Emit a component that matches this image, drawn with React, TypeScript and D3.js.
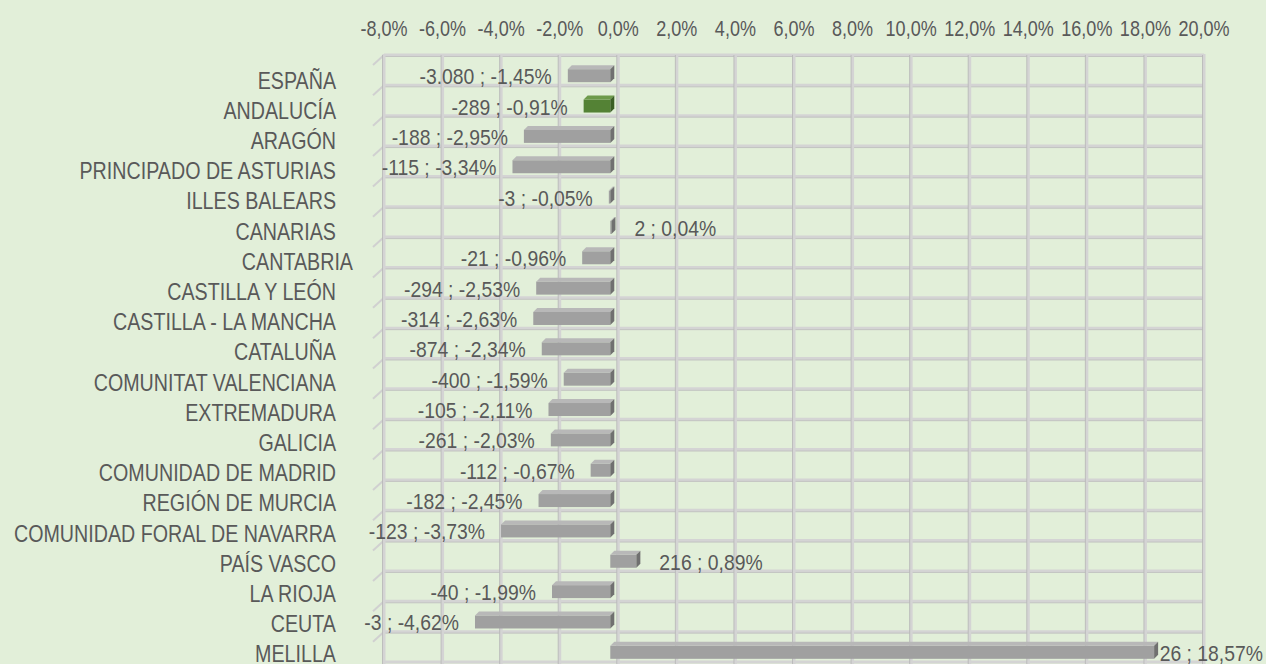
import React from "react";
import * as d3 from "d3";

const categories = [
  "ESPAÑA", "ANDALUCÍA", "ARAGÓN", "PRINCIPADO DE ASTURIAS", "ILLES BALEARS",
  "CANARIAS", "CANTABRIA", "CASTILLA Y LEÓN", "CASTILLA - LA MANCHA", "CATALUÑA",
  "COMUNITAT VALENCIANA", "EXTREMADURA", "GALICIA", "COMUNIDAD DE MADRID",
  "REGIÓN DE MURCIA", "COMUNIDAD FORAL DE NAVARRA", "PAÍS VASCO", "LA RIOJA",
  "CEUTA", "MELILLA",
];
const absoluteChange = [-3080, -289, -188, -115, -3, 2, -21, -294, -314, -874, -400, -105, -261, -112, -182, -123, 216, -40, -3, 26];
const percentChange = [-1.45, -0.91, -2.95, -3.34, -0.05, 0.04, -0.96, -2.53, -2.63, -2.34, -1.59, -2.11, -2.03, -0.67, -2.45, -3.73, 0.89, -1.99, -4.62, 18.57];
const highlighted = ["ANDALUCÍA"];
const tickValues = [-8, -6, -4, -2, 0, 2, 4, 6, 8, 10, 12, 14, 16, 18, 20];

const W = 1266;
const H = 664;
const FONT = "'Liberation Sans', Arial, sans-serif";
const TEXT = "#595959";

const locale = d3.formatLocale({ decimal: ",", thousands: ".", grouping: [3], currency: ["", "€"], minus: "-" });
const fmtInt = locale.format(",d");
const fmtPct = locale.format(".2f");
const fmtTick = locale.format(".1f");

function NText(props: { x: number; y: number; size: number; sx: number; anchor: "start" | "middle" | "end"; children: string }) {
  return (
    <text
      transform={`translate(${props.x},${props.y}) scale(${props.sx},1)`}
      textAnchor={props.anchor}
      fontFamily={FONT}
      fontSize={props.size}
      fill={TEXT}
    >
      {props.children}
    </text>
  );
}

export default function App() {
  const x = d3.scaleLinear().domain([-8, 20]).range([384, 1204]);
  const y = d3.scaleBand<string>().domain(categories).range([55, 662]).padding(0);
  const yLabel = d3.scaleBand<string>().domain(categories).range([65, 669]).padding(0);
  const bw = y.bandwidth();
  const depth = 4;
  const shiftX = -8;
  const dataSize = 22;
  const dataSx = 0.88;

  return (
    <svg width={W} height={H} style={{ position: "absolute", left: 0, top: 0, display: "block" }}>
      <rect x={0} y={0} width={W} height={H} fill="#e2efd9" />
      {tickValues.map((t) => (
        <NText key={"t" + t} x={x(t)} y={36} size={22} sx={0.82} anchor="middle">
          {fmtTick(t) + "%"}
        </NText>
      ))}
      {categories.map((c) => (
        <g key={"h" + c}>
          <line x1={x(-8)} x2={x(20)} y1={y(c)!} y2={y(c)!} stroke="#d4d4d4" strokeWidth={3} />
          <line x1={x(-8)} x2={x(20)} y1={y(c)! + 1.5} y2={y(c)! + 1.5} stroke="#bdbdbd" strokeWidth={0.8} />
          <line x1={x(-8) - 11} y1={y(c)! + 10} x2={x(-8)} y2={y(c)!} stroke="#d0d0d0" strokeWidth={2} />
        </g>
      ))}
      <line x1={x(-8)} x2={x(20)} y1={662} y2={662} stroke="#d4d4d4" strokeWidth={3} />
      {tickValues.map((t) => (
        <g key={"v" + t}>
          <line x1={x(t)} x2={x(t)} y1={54} y2={H} stroke="#d4d4d4" strokeWidth={3} />
          <line x1={x(t) - 1.5} x2={x(t) - 1.5} y1={55} y2={H} stroke="#b5b5b5" strokeWidth={0.8} />
        </g>
      ))}
      {categories.map((c, i) => {
        const v = percentChange[i];
        const cy = y(c)! + bw / 2 + 5;
        const x0 = Math.min(x(0), x(v)) + shiftX;
        const x1 = Math.max(x(0), x(v)) + shiftX;
        const top = cy - 6;
        const bot = cy + 7;
        const green = highlighted.includes(c);
        const front = green ? "#548235" : "#a0a0a0";
        const topC = green ? "#6d9a4b" : "#b8b8b8";
        const side = green ? "#3b5e25" : "#707070";
        const label = fmtInt(absoluteChange[i]) + " ; " + fmtPct(v) + "%";
        const estW = label.length * dataSize * 0.5 * dataSx;
        let lx: number;
        let anchor: "start" | "end";
        if (v < 0) {
          lx = x0 - 16;
          anchor = "end";
        } else {
          lx = x1 + 23;
          anchor = "start";
          if (lx + estW > W - 2) {
            lx = W - 3;
            anchor = "end";
          }
        }
        return (
          <g key={"b" + c}>
            <rect x={x0} y={top} width={Math.max(0.5, x1 - x0)} height={bot - top} fill={front} />
            <polygon points={`${x0},${top} ${x0 + depth},${top - depth} ${x1 + depth},${top - depth} ${x1},${top}`} fill={topC} />
            <polygon points={`${x1},${top} ${x1 + depth},${top - depth} ${x1 + depth},${bot - depth} ${x1},${bot}`} fill={side} />
            <NText x={lx} y={cy + 9} size={dataSize} sx={dataSx} anchor={anchor}>
              {label}
            </NText>
          </g>
        );
      })}
      {categories.map((c) => (
        <NText key={"c" + c} x={c === "CANTABRIA" ? 353 : 336} y={yLabel(c)! + yLabel.bandwidth() / 2 + 8.5} size={24} sx={0.82} anchor="end">
          {c}
        </NText>
      ))}
    </svg>
  );
}
